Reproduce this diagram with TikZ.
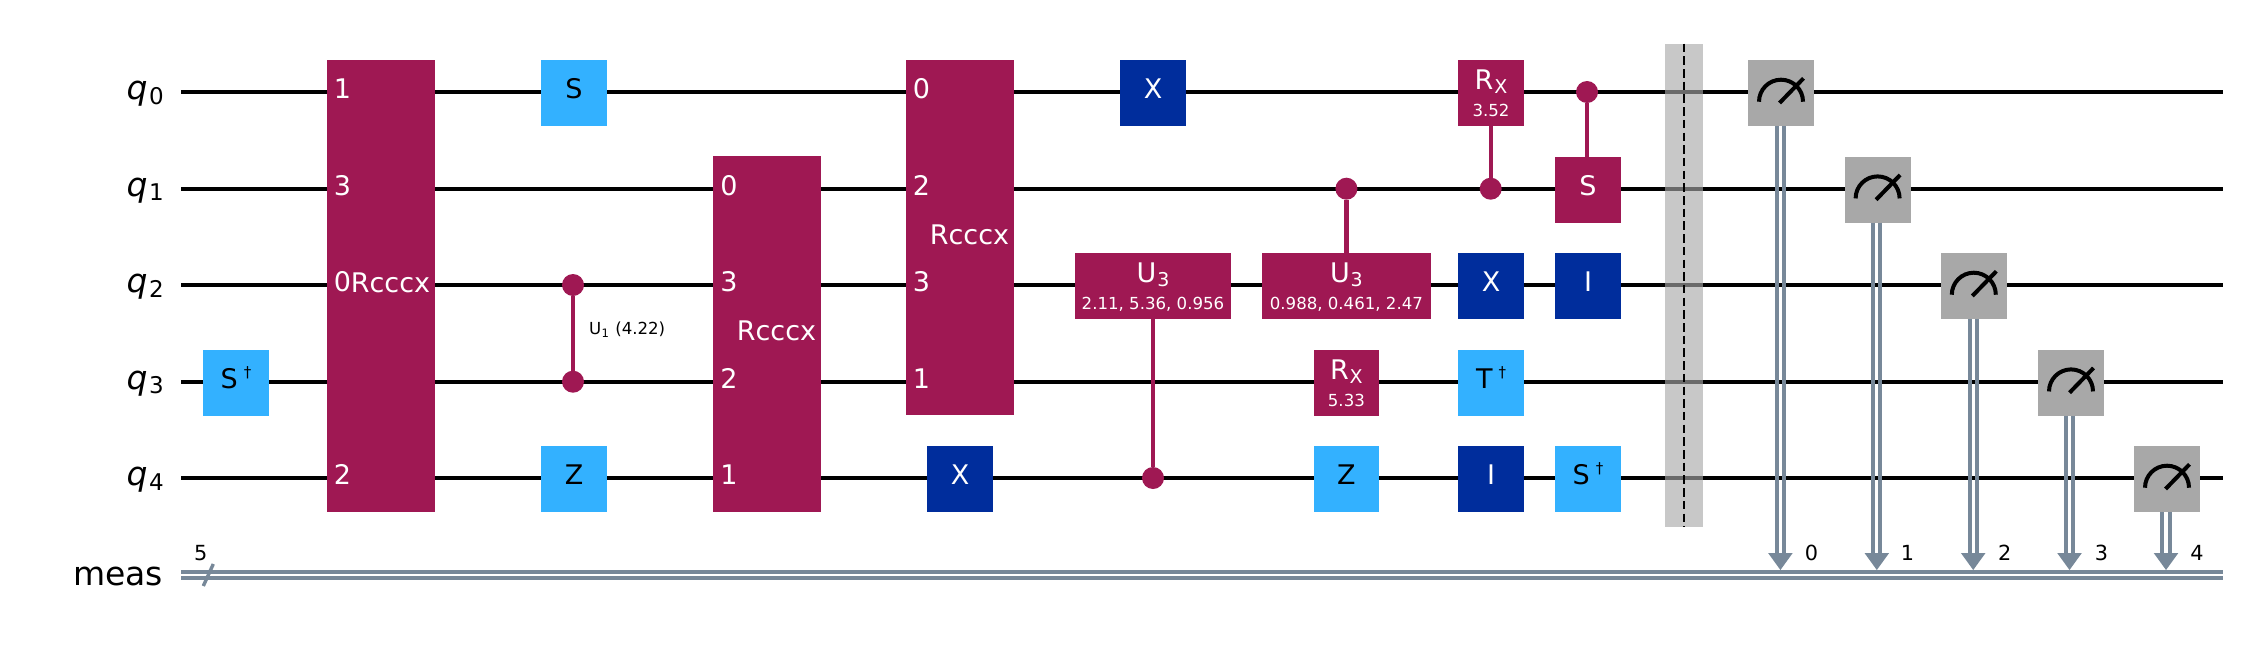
\documentclass[tikz,border=0pt]{standalone}
\usepackage{fontspec}
\setmainfont{DejaVu Sans}
\definecolor{gp}{HTML}{9F1853}
\definecolor{gb}{HTML}{002D9C}
\definecolor{gl}{HTML}{33B1FF}
\definecolor{gm}{HTML}{A8A8A8}
\definecolor{slate}{HTML}{778899}
\newcommand\fsG{\fontsize{27}{27}\selectfont}
\newcommand\fsM{\fontsize{19}{19}\selectfont}
\newcommand\fsS{\fontsize{16.6}{17}\selectfont}
\newcommand\fsB{\fontsize{20.8}{21}\selectfont}
\newcommand\fsW{\fontsize{33}{33}\selectfont}
\newcommand\fsU{\fontsize{23}{23}\selectfont}
\newcommand\subX[1]{\kern0.8pt\raisebox{-4pt}{\fsM #1}}
\newcommand\dgr{\kern6pt\raisebox{11.3pt}{\fontsize{15}{15}\selectfont †}}
% name, x, wire y, width, colour, text colour, text
\newcommand\gatebox[7]{%
  \node[gbox,fill=#5,minimum width=#4pt] (#1) at (#2,{#3+1}) {};
  \node[txt,anchor=base,text=#6] (#1t) at (#2,{#3+6.7}) {\fsG #7};}
% name, x, wire y, width, big text, small text
\newcommand\paramgate[6]{%
  \node[gbox,fill=gp,minimum width=#4pt] (#1) at (#2,{#3+1}) {};
  \node[txt,anchor=base,text=white] (#1t) at (#2,{#3-2.3}) {\fsG #5};
  \node[txt,anchor=base,text=white] (#1p) at (#2,{#3+24.3}) {\fsS #6};}
% name, centre x, centre y, height
\newcommand\rgate[4]{\node[gbox,fill=gp,minimum width=107.8pt,minimum height=#4pt] (#1) at (#2,#3) {};
  \node[txt,anchor=base,text=white] (#1t) at ({#2+9.5},{#3+6.8}) {\fsG Rcccx};}
\newcommand\numlab[4]{\node[txt,anchor=base,text=white] (#1) at (#2,{#3+6.5}) {\fsG #4};}
\newcommand\wlabel[3]{\node[txt,anchor=base east] (l#1) at (163.7,{#2+7.5}) {\fsW\itshape q\kern1.5pt\raisebox{-4.5pt}{\fsU\upshape #3}};}
% name, x, wire y, tip x, bit label x, bit label
\newcommand\measgate[6]{%
  \node[gbox,fill=gm] (#1) at (#2,{#3+1}) {};
  \draw[meter] ({#2-22},{#3+9.7}) arc (180:360:22);
  \draw[meter] ({#2-1.5},{#3+11}) -- ({#2+22.5},{#3-13.7});
  \coordinate (#1tip) at (#4,570);
  \draw[cbit] ({#4-3.65},{#3+34}) -- ({#4-3.65},555);
  \draw[cbit] ({#4+3.65},{#3+34}) -- ({#4+3.65},555);
  \fill[slate] ([xshift=-12.3pt,yshift=17pt]#1tip) -- ([xshift=12.3pt,yshift=17pt]#1tip) -- (#1tip) -- cycle;
  \node[txt,anchor=base] (#1b) at (#5,560.7) {\fsB #6};}
\tikzset{
  gbox/.style={rectangle,draw=none,inner sep=0pt,outer sep=0pt,minimum width=66pt,minimum height=66pt},
  txt/.style={inner sep=0pt,outer sep=0pt,text=black},
  qwire/.style={draw=black,line width=4pt},
  cbit/.style={draw=slate,line width=4pt},
  ctrl/.style={draw=gp,line width=4.2pt},
  dot/.style={circle,fill=gp,draw=none,inner sep=0pt,outer sep=0pt,minimum size=22pt},
  meter/.style={draw=black,line width=4pt},
  barline/.style={draw=black,line width=2pt,dash pattern=on 8.5pt off 4.2pt}
}
\begin{document}
\begin{tikzpicture}[x=1pt,y=-1pt]
\useasboundingbox (0,0) rectangle (2245,648);
\fill[white] (0,0) rectangle (2245,648);
% wires
\foreach \n/\y in {0/92,1/188.7,2/285,3/381.7,4/478}{
  \coordinate (w\n L) at (181,\y);
  \coordinate (w\n R) at (2223,\y);
  \draw[qwire] (w\n L) -- (w\n R);
}
\wlabel{0}{92}{0}
\wlabel{1}{188.7}{1}
\wlabel{2}{285}{2}
\wlabel{3}{381.7}{3}
\wlabel{4}{478}{4}
\node[txt,anchor=base east] (lmeas) at (163,585) {\fsW meas};
% classical bus
\coordinate (cL) at (181,575);
\coordinate (cR) at (2223,575);
\draw[cbit] ([yshift=3pt]cL) -- ([yshift=3pt]cR);
\draw[cbit] ([yshift=-3pt]cL) -- ([yshift=-3pt]cR);
\coordinate (sa) at (203.3,586);
\coordinate (sb) at (213.3,564);
\draw[slate,line width=3.4pt] (sa) -- (sb);
\node[txt,anchor=base] (cnum) at (200.7,560.7) {\fsB 5};
% column gates
\gatebox{sdga}{236}{381.7}{66}{gl}{black}{S\dgr}
\rgate{ra}{381}{285.8}{451.7}
\numlab{ra1}{342.5}{92}{1}
\numlab{ra3}{342.5}{188.7}{3}
\numlab{ra0}{342.5}{285}{0}
\numlab{ra2}{342.5}{478}{2}
\gatebox{sa0}{574}{92}{66}{gl}{black}{S}
\gatebox{za}{574}{478}{66}{gl}{black}{Z}
\node[dot] (ua) at (573,285) {};
\node[dot] (ub) at (573,381.7) {};
\draw[ctrl] (ua) -- (ub);
\node[txt,anchor=base west] (ulab) at (589,334.7) {\fontsize{16.6}{17}\selectfont U\kern0.5pt\raisebox{-3pt}{\fontsize{11.6}{12}\selectfont 1}\kern1pt{} (4.22)};
\rgate{rb}{767}{333.7}{355.8}
\numlab{rb0}{729}{188.7}{0}
\numlab{rb3}{729}{285}{3}
\numlab{rb2}{729}{381.7}{2}
\numlab{rb1}{729}{478}{1}
\gatebox{xb}{960}{478}{66}{gb}{white}{X}
\rgate{rc}{960}{237.2}{354.6}
\numlab{rc0}{921.5}{92}{0}
\numlab{rc2}{921.5}{188.7}{2}
\numlab{rc3}{921.5}{285}{3}
\numlab{rc1}{921.5}{381.7}{1}
\gatebox{xa}{1153}{92}{66}{gb}{white}{X}
\paramgate{ua3}{1153}{285}{156.4}{U\subX{3}}{2.11, 5.36, 0.956}
\node[dot] (uad) at (1153,478) {};
\draw[ctrl] (uad) -- (ua3.south -| uad);
\paramgate{ub3}{1346.4}{285}{169.2}{U\subX{3}}{0.988, 0.461, 2.47}
\node[dot] (ubd) at (1346.4,188.7) {};
\draw[ctrl] (ubd) -- (ub3.north -| ubd);
\paramgate{rxb}{1346.4}{381.7}{65}{R\subX{X}}{5.33}
\gatebox{zb}{1346.4}{478}{65}{gl}{black}{Z}
\paramgate{rxa}{1491}{92}{66}{R\subX{X}}{3.52}
\node[dot] (rxd) at (1490.7,188.7) {};
\draw[ctrl] (rxd) -- (rxa.south -| rxd);
\gatebox{xc}{1491}{285}{66}{gb}{white}{X}
\gatebox{tdg}{1491}{381.7}{66}{gl}{black}{T\dgr}
\gatebox{ia}{1491}{478}{66}{gb}{white}{I}
\gatebox{cs}{1588}{188.7}{66}{gp}{white}{S}
\node[dot] (csd) at (1587,92) {};
\draw[ctrl] (csd) -- (cs.north -| csd);
\gatebox{ib}{1588}{285}{66}{gb}{white}{I}
\gatebox{sdgb}{1588}{478}{66}{gl}{black}{S\dgr}
% barrier
\node[rectangle,draw=none,inner sep=0pt,fill=gm,fill opacity=0.63,minimum width=38pt,minimum height=483pt] (bar) at (1684,285.3) {};
\draw[barline] (bar.north) -- (bar.south);
% measurements
\measgate{ma}{1781}{92}{1780.4}{1811.4}{0}
\measgate{mb}{1877.6}{188.7}{1876.8}{1907.4}{1}
\measgate{mc}{1973.8}{285}{1973.2}{2004.8}{2}
\measgate{md}{2071}{381.7}{2069.5}{2101.4}{3}
\measgate{me}{2167}{478}{2166}{2197}{4}
\end{tikzpicture}
\end{document}
